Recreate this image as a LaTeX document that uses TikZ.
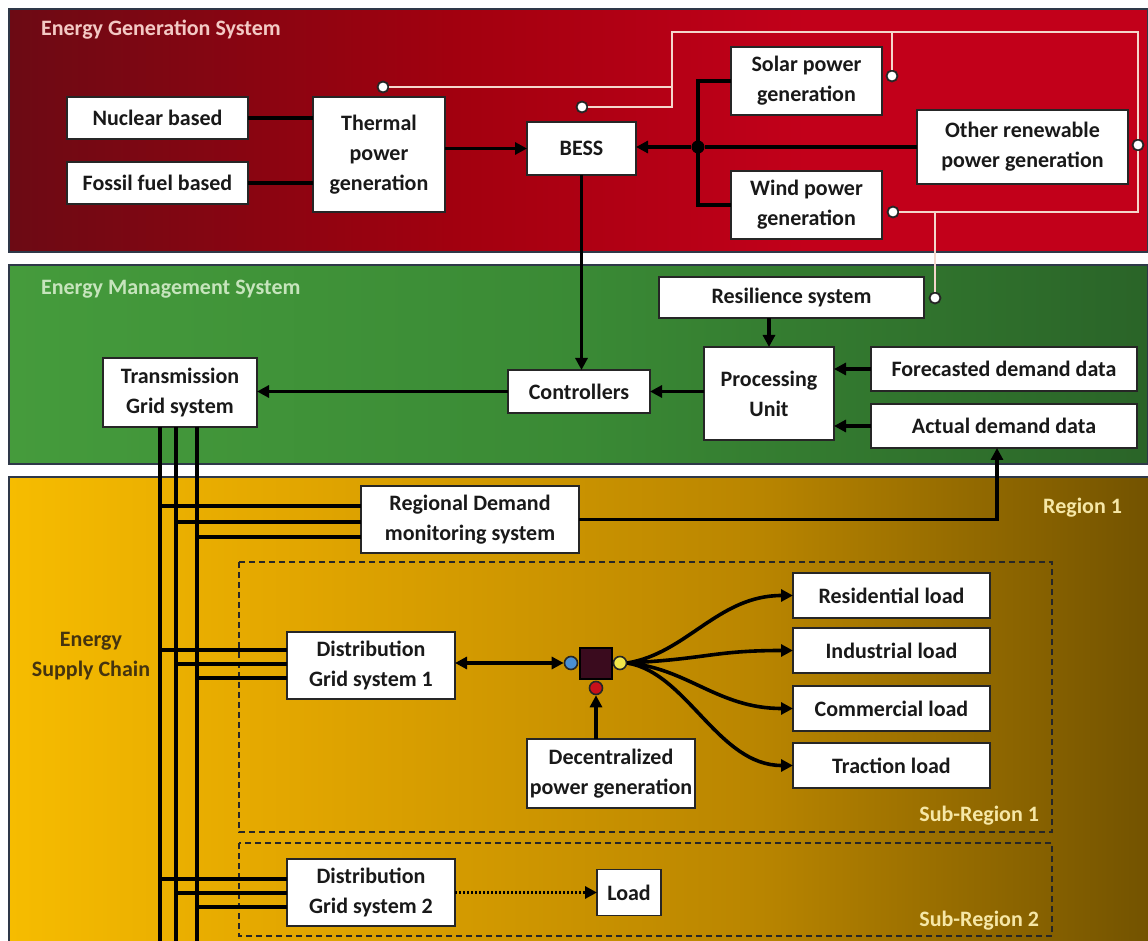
\documentclass[tikz,border=0pt]{standalone}
\usepackage{fontspec}
\setmainfont{Carlito}
\usetikzlibrary{arrows.meta,calc}

% panel and text colours
\definecolor{redA}{HTML}{6C0A14}
\definecolor{redB}{HTML}{A3000F}
\definecolor{redC}{HTML}{C2001A}
\definecolor{grA}{HTML}{459B3C}
\definecolor{grB}{HTML}{3A8A35}
\definecolor{grC}{HTML}{2A6428}
\definecolor{yeA}{HTML}{F6BC00}
\definecolor{yeB}{HTML}{E3A700}
\definecolor{yeC}{HTML}{B98500}
\definecolor{yeD}{HTML}{735300}
\definecolor{frame}{HTML}{2E3848}
\definecolor{wline}{HTML}{F4D6CC}
\definecolor{egstxt}{HTML}{F3C9C4}
\definecolor{emstxt}{HTML}{C6E4BC}
\definecolor{regtxt}{HTML}{F6E7A6}
\definecolor{esctxt}{HTML}{45340F}
\definecolor{hubfill}{HTML}{3A0B1E}
\definecolor{portblue}{HTML}{4A8FD4}
\definecolor{portyel}{HTML}{F2E64A}
\definecolor{portred}{HTML}{C8101A}

\pgfdeclarehorizontalshading{redpanel}{100bp}{color(0bp)=(redA); color(25bp)=(redA); color(45bp)=(redB); color(60bp)=(redC); color(75bp)=(redC); color(100bp)=(redC)}
\pgfdeclarehorizontalshading{greenpanel}{100bp}{color(0bp)=(grA); color(25bp)=(grA); color(50bp)=(grB); color(75bp)=(grC); color(100bp)=(grC)}
\pgfdeclarehorizontalshading{yellowpanel}{100bp}{color(0bp)=(yeA); color(25bp)=(yeA); color(37bp)=(yeB); color(58bp)=(yeC); color(75bp)=(yeD); color(100bp)=(yeD)}

\newcommand{\bxfont}{\fontsize{11pt}{15pt}\selectfont\bfseries}

\tikzset{
  box/.style={draw=black!85, line width=0.9pt, fill=white, font=\bxfont,
    align=center, inner sep=0pt, outer sep=0pt, text=black!90},
  sz/.style 2 args={minimum width=#1*0.5pt, minimum height=#2*0.5pt},
  cn/.style={line width=1.8pt, draw=black},
  arr/.style={cn, -{Triangle[length=6pt,width=6pt]}},
  arrb/.style={cn, {Triangle[length=6pt,width=6pt]}-{Triangle[length=6pt,width=6pt]}},
  dotarr/.style={line width=1.6pt, draw=black, dash pattern=on 1pt off 1pt,
    -{Triangle[length=6pt,width=6pt]}},
  wl/.style={line width=0.8pt, draw=wline},
  port/.style={circle, draw=black!85, line width=0.9pt, fill=white,
    minimum size=5.5pt, inner sep=0pt},
  cport/.style={circle, draw=black!85, line width=0.8pt, fill=#1,
    minimum size=6.5pt, inner sep=0pt},
  panel/.style={draw=frame, line width=1pt},
  ptitle/.style={anchor=west, font=\fontsize{11pt}{13pt}\selectfont\bfseries},
  rtitle/.style={font=\fontsize{11pt}{13pt}\selectfont\bfseries, text=regtxt},
  subbox/.style={draw=black!85, line width=0.8pt, dash pattern=on 3pt off 2pt},
}

\begin{document}
\begin{tikzpicture}[x=0.5pt, y=-0.5pt]
\useasboundingbox (0,0) rectangle (1148,941);
\fill[white] (0,0) rectangle (1148,941);

% ---- panels ----
\shade[shading=redpanel] (9,9) rectangle (1148,252);
\draw[panel] (9,9) rectangle (1148,252);
\shade[shading=greenpanel] (9,265) rectangle (1148,464);
\draw[panel] (9,265) rectangle (1148,464);
\shade[shading=yellowpanel] (9,477) rectangle (1148,941);
\draw[panel] (9,941) -- (9,477) -- (1148,477);

\node[ptitle, text=egstxt] (egs) at (34,30) {Energy Generation System};
\node[ptitle, text=emstxt] (ems) at (34,289) {Energy Management System};
\node[rtitle, anchor=east] (reg1) at (1129,508) {Region 1};
\node[rtitle, anchor=east] (sub1) at (1046,816) {Sub-Region 1};
\node[rtitle, anchor=east] (sub2) at (1046,921) {Sub-Region 2};
\node[font=\bxfont, text=esctxt, align=center] (esc) at (91,656) {Energy\\Supply Chain};

% ---- sub-region frames ----
\draw[subbox] (239,562) rectangle (1052,832);
\draw[subbox] (239,843) rectangle (1052,936);

% ---- generation boxes ----
\node[box, sz={181}{42}] (nuc) at (157.5,118) {Nuclear based};
\node[box, sz={181}{42}] (fos) at (157.5,183) {Fossil fuel based};
\node[box, sz={132}{115}] (thm) at (379,154.5) {Thermal\\power\\generation};
\node[box, sz={109}{53}] (bess) at (581.5,148.5) {BESS};
\node[box, sz={151}{68}] (sol) at (806.5,81) {Solar power\\generation};
\node[box, sz={151}{68}] (wnd) at (806.5,205) {Wind power\\generation};
\node[box, sz={211}{74}] (oth) at (1022.5,147) {Other renewable\\power generation};

% ---- management boxes ----
\node[box, sz={265}{41}] (res) at (791.5,297.5) {Resilience system};
\node[box, sz={130}{93}] (pu) at (769,393.5) {Processing\\Unit};
\node[box, sz={266}{44}] (fc) at (1004,369) {Forecasted demand data};
\node[box, sz={266}{44}] (ac) at (1004,426) {Actual demand data};
\node[box, sz={142}{43}] (ctl) at (579,391.5) {Controllers};
\node[box, sz={154}{69}] (tr) at (180,392.5) {Transmission\\Grid system};

% ---- supply chain boxes ----
\node[box, sz={218}{67}] (rdm) at (470,519.5) {Regional Demand\\monitoring system};
\node[box, sz={168}{67}] (d1) at (371,665.5) {Distribution\\Grid system 1};
\node[box, sz={168}{67}] (d2) at (371,892.5) {Distribution\\Grid system 2};
\node[box, sz={64}{46}] (load) at (629,892.5) {Load};
\node[box, sz={168}{69}] (dec) at (611,773.5) {Decentralized\\power generation};
\node[box, sz={197}{45}] (resl) at (891.5,595.5) {Residential load};
\node[box, sz={197}{45}] (ind) at (891.5,650.5) {Industrial load};
\node[box, sz={197}{45}] (com) at (891.5,708.5) {Commercial load};
\node[box, sz={197}{45}] (tra) at (891.5,765.5) {Traction load};

% ---- hub with its three ports ----
\node[draw=black, line width=0.7pt, fill=hubfill, minimum width=16pt,
      minimum height=15.5pt, inner sep=0pt] (hub) at (596,663.5) {};
\node[cport=portblue] (bc) at (571,663) {};
\node[cport=portyel] (yc) at (620,663) {};
\node[cport=portred] (rc) at (596,688) {};

% ---- white signal network ----
\node[port] (pth) at (383,87) {};
\node[port] (pbess) at (582,107) {};
\node[port] (psol) at (892,76) {};
\node[port] (pwnd) at (893,212) {};
\node[port] (poth) at (1138,145) {};
\node[port] (pres) at (935,298) {};
\coordinate (k1) at (672,32);
\coordinate (k2) at (1138,32);
\draw[wl] (pth) -- (pth -| k1);
\draw[wl] (pbess) -| (k1) -- (k2) -- (poth);
\draw[wl] (poth) -- (poth |- pwnd) -- (pwnd);
\draw[wl] (psol) -- (psol |- k1);
\draw[wl] (pres) -- (pres |- pwnd);

% ---- generation connectors ----
\draw[cn] (nuc) -- (nuc -| thm.west);
\draw[cn] (fos) -- (fos -| thm.west);
\draw[arr] (thm.east |- bess.west) -- (bess.west);
\node[circle, fill=black, minimum size=6.5pt, inner sep=0pt] (j) at (698,147) {};
\draw[cn] (sol.west) -| (j.center) |- (wnd.west);
\draw[arr] (j) -- (j -| bess.east);
\draw[cn] (oth.west) -- (j);

% ---- management connectors ----
\draw[arr] (bess.south) -- (bess.south |- ctl.north);
\draw[arr] (res.south -| pu.north) -- (pu.north);
\draw[arr] (fc.west) -- (fc.west -| pu.east);
\draw[arr] (ac.west) -- (ac.west -| pu.east);
\draw[arr] (pu.west |- ctl.east) -- (ctl.east);
\draw[arr] (ctl.west) -- (ctl.west -| tr.east);

% ---- supply buses from the transmission grid ----
\coordinate (b1) at (160,941);
\coordinate (b2) at (176,941);
\coordinate (b3) at (197,941);
\coordinate (r1) at (160,506);
\coordinate (r2) at (176,522);
\coordinate (r3) at (197,537);
\coordinate (p1) at (160,650);
\coordinate (p2) at (176,664);
\coordinate (p3) at (197,678);
\coordinate (q1) at (160,879);
\coordinate (q2) at (176,893);
\coordinate (q3) at (197,907);
\foreach \t in {r1,r2,r3} \draw[cn] (\t) -- (\t -| rdm.west);
\foreach \t in {p1,p2,p3} \draw[cn] (\t) -- (\t -| d1.west);
\foreach \t in {q1,q2,q3} \draw[cn] (\t) -- (\t -| d2.west);
\foreach \b in {b1,b2,b3} \draw[cn] (\b |- tr.south) -- (\b);

% ---- regional monitoring feedback ----
\draw[arr] (rdm.east) -| ($(ac.south)+(-7,0)$);

% ---- sub-region 1 flows ----
\draw[arrb] (d1.east |- bc) -- (bc.west);
\draw[arr] (dec.north -| rc) -- (rc.south);
\draw[arr] (yc.east) .. controls +(60,-10) and +(-75,0) .. (resl.west);
\draw[arr] (yc.east) .. controls +(80,-4) and +(-80,0) .. (ind.west);
\draw[arr] (yc.east) .. controls +(60,5) and +(-75,0) .. (com.west);
\draw[arr] (yc.east) .. controls +(60,10) and +(-75,0) .. (tra.west);

% ---- sub-region 2 flow ----
\draw[dotarr] (d2.east |- load.west) -- (load.west);

\end{tikzpicture}
\end{document}
